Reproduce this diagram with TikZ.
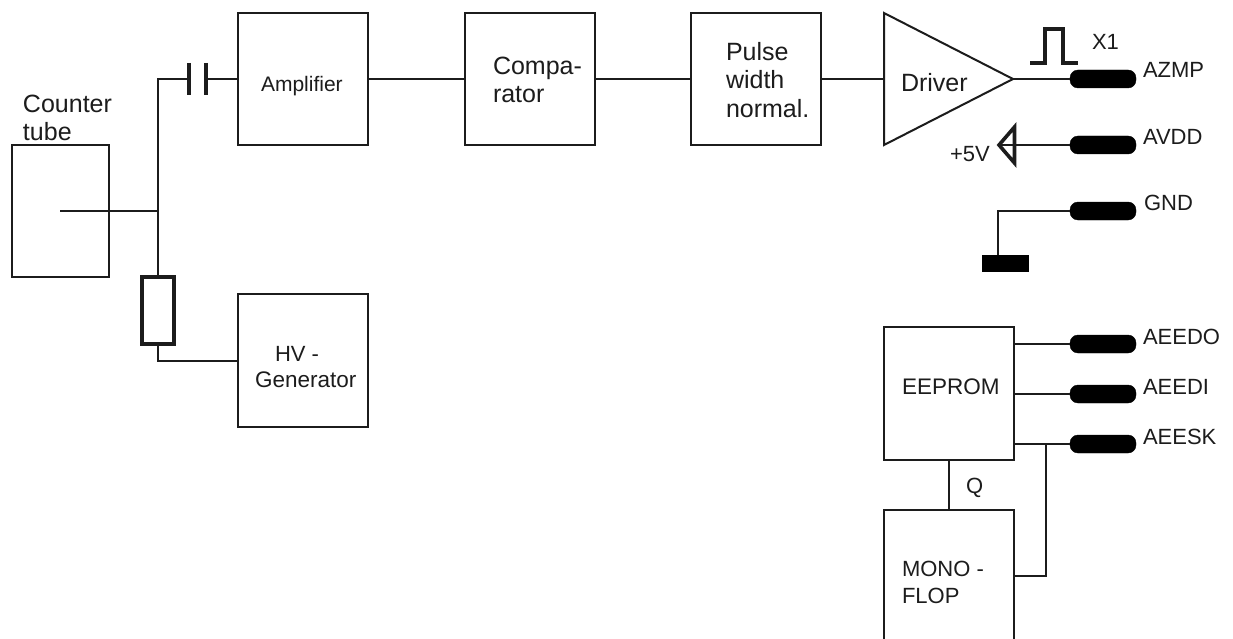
\documentclass[tikz,border=0pt]{standalone}
\usepackage{fontspec}
\setmainfont{Liberation Sans}
\newcommand{\fs}[1]{\fontsize{#1}{#1}\selectfont}
\definecolor{ink}{HTML}{1C1C1C}
\tikzset{
 wire/.style={draw=ink,line width=2pt},
 box/.style={draw=ink,line width=2pt,inner sep=0,outer sep=0,minimum width=130,minimum height=132},
 pin/.style={draw=black,fill=black,inner sep=0,outer sep=0,minimum width=66,minimum height=18,rounded corners=8},
 lbl/.style={anchor=base west,inner sep=0,outer sep=0,text=ink,font=\fs{22}},
 big/.style={lbl,font=\fs{25}},
 heavy/.style={draw=ink,line width=3.6pt},
}
\begin{document}
\begin{tikzpicture}[x=1pt,y=-1pt]
\useasboundingbox (0,0) rectangle (1233,639);
\fill[white] (0,0) rectangle (1233,639);
% boxes
\node[box,minimum width=97] (tube) at (60.5,211) {};
\node[box] (amp) at (303,79) {};
\node[box] (comp) at (529.5,79) {};
\node[box] (pw) at (755.5,79) {};
\node[box,minimum height=133] (hv) at (303,360.5) {};
\node[box,minimum height=133] (ee) at (949,393.5) {};
\coordinate (drvA) at (884,13);
\coordinate (drvB) at (884,145);
\coordinate (drvT) at (1013,79);
\draw[wire,line join=miter] (drvA) -- (drvB) -- (drvT) -- cycle;
\coordinate (drvIn) at (884,79);
\node[inner sep=0,outer sep=0,minimum width=130,minimum height=129] (mono) at (949,574.5) {};
\draw[wire] (mono.south west) -- (mono.north west) -- (mono.north east) -- (mono.south east);
% pins
\node[pin] (azmp) at (1103,79) {};
\node[pin] (avdd) at (1103,145) {};
\node[pin] (gnd) at (1103,211) {};
\node[pin] (aeedo) at (1103,344) {};
\node[pin] (aeedi) at (1103,394) {};
\node[pin] (aeesk) at (1103,444) {};
% resistor and capacitor
\node[draw=ink,line width=4pt,inner sep=0,outer sep=0,minimum width=32,minimum height=67] (res) at (157.5,310.5) {};
\coordinate (capL) at (189,79);
\coordinate (capR) at (206,79);
\draw[heavy,line width=4.5pt] (189,63) -- (189,95);
\draw[heavy,line width=4.5pt] (206,63) -- (206,95);
% wires
\coordinate (tubeIn) at (60,211);
\coordinate (jn) at (157.5,211);
\draw[wire] (tubeIn) -- (jn);
\draw[wire] (res.north) -- (157.5,79) -- (capL);
\draw[wire] (capR) -- (amp.west |- capR);
\draw[wire] (res.south) -- (157.5,361) -- (hv.west |- 0,361);
\draw[wire] (amp.east) -- (comp.west);
\draw[wire] (comp.east) -- (pw.west);
\draw[wire] (pw.east) -- (drvIn);
\draw[wire] (drvT) -- (azmp.west);
% +5V
\coordinate (vTip) at (999,145);
\draw[wire] (avdd.west) -- (vTip);
\draw[heavy,line join=miter] (1014.5,127) -- (vTip) -- (1014.5,163) -- cycle;
% ground
\node[fill=black,inner sep=0,outer sep=0,minimum width=47,minimum height=17] (gbar) at (1005.5,263.5) {};
\draw[wire] (gnd.west) -- (998,211) -- (998,255);
% pulse
\draw[heavy,line width=3.2pt,line join=miter] (1030,63) -- (1045,63) -- (1045,29) -- (1063,29) -- (1063,63) -- (1078,63);
% eeprom wires
\draw[wire] (ee.east |- aeedo) -- (aeedo.west);
\draw[wire] (ee.east |- aeedi) -- (aeedi.west);
\draw[wire] (ee.east |- aeesk) -- (aeesk.west);
\coordinate (jk) at (1046,444);
\draw[wire] (jk) -- (1046,576) -- (mono.east |- 0,576);
\draw[wire] (ee.south) -- (mono.north);
% texts
\node[big] (t1) at (23,113) {Counter};
\node[big] (t2) at (23,141) {tube};
\node[lbl,font=\fs{21}] (t3) at (261,92) {Amplifier};
\node[big] (t4) at (493,75) {Compa-};
\node[big] (t5) at (493,103) {rator};
\node[big] (t6) at (726,61) {Pulse};
\node[big] (t7) at (726,89) {width};
\node[big] (t8) at (726,118) {normal.};
\node[big] (t9) at (901,92) {Driver};
\node[lbl] (t10) at (275,361) {HV -};
\node[lbl,font=\fs{22.5}] (t11) at (255,387) {Generator};
\node[lbl] (t12) at (1143,78) {AZMP};
\node[lbl] (t13) at (1143,145) {AVDD};
\node[lbl] (t14) at (1144,211) {GND};
\node[lbl] (t15) at (1092,50) {X1};
\node[lbl] (t16) at (950,162) {+5V};
\node[lbl] (t17) at (1143,344) {AEEDO};
\node[lbl] (t18) at (1143,394) {AEEDI};
\node[lbl] (t19) at (1143,444) {AEESK};
\node[lbl,font=\fs{22.5}] (t20) at (902,394) {EEPROM};
\node[lbl] (t21) at (966,493) {Q};
\node[lbl] (t22) at (902,576) {MONO -};
\node[lbl] (t23) at (902,603) {FLOP};
\end{tikzpicture}
\end{document}
